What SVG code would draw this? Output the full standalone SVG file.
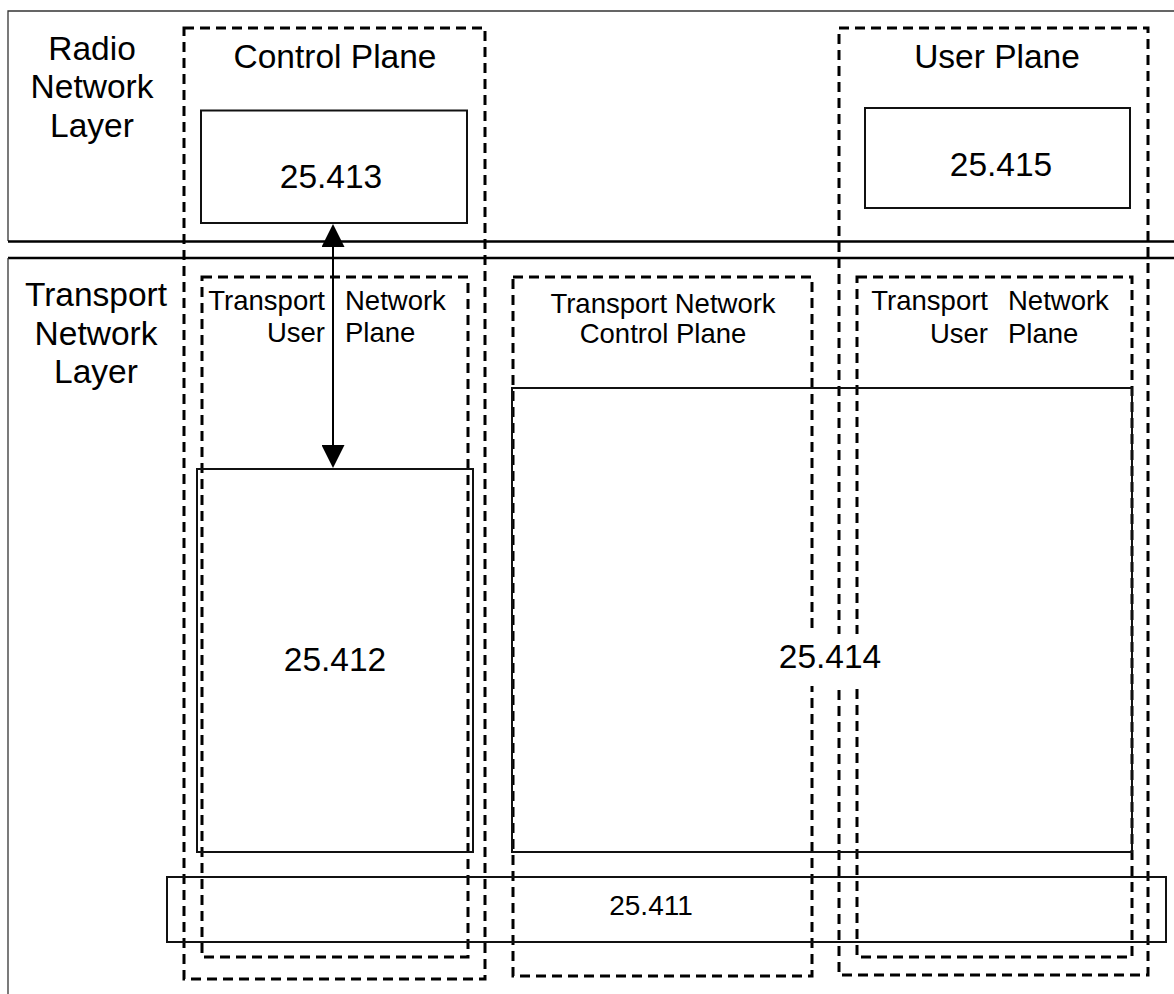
<svg xmlns="http://www.w3.org/2000/svg" width="1174" height="994" viewBox="0 0 1174 994">
<style>
text{font-family:"Liberation Sans",Arial,sans-serif;fill:#000}
.big{font-size:33.5px;text-anchor:middle}
.mid{font-size:27.5px}
.c{text-anchor:middle}
.e{text-anchor:end}
.s{text-anchor:start}
.frame{fill:none;stroke:#333;stroke-width:1.3}
.sep{fill:none;stroke:#000;stroke-width:2.5}
.dash{fill:none;stroke:#000;stroke-width:3;stroke-dasharray:10 6}
.box{fill:none;stroke:#111;stroke-width:2}
.conn{stroke:#000;stroke-width:2;fill:none}
</style>
<defs>
<marker id="ah" viewBox="0 0 23 23" refX="20" refY="11.5" markerWidth="23" markerHeight="23" markerUnits="userSpaceOnUse" orient="auto-start-reverse">
<path d="M0,0 L23,11.5 L0,23 z" fill="#000"/>
</marker>
</defs>
<g id="layers">
<path class="frame" d="M1174,11 H8 V241"/>
<path class="sep" d="M8,241.5 H1174"/>
<path class="sep" d="M1174,258 H8"/>
<path class="frame" d="M8,258 V994"/>
<text class="big" x="92" y="60">Radio</text>
<text class="big" x="92" y="98">Network</text>
<text class="big" x="92" y="137">Layer</text>
<text class="big" x="96" y="306">Transport</text>
<text class="big" x="96" y="345">Network</text>
<text class="big" x="96" y="383">Layer</text>
</g>
<g id="control-plane">
<rect class="dash" x="184" y="28" width="301" height="951"/>
<text class="big" x="335" y="68">Control Plane</text>
</g>
<g id="user-plane">
<rect class="dash" x="839" y="28" width="309" height="947"/>
<text class="big" x="997" y="68">User Plane</text>
</g>
<g id="tnup-left">
<rect class="dash" x="202" y="277" width="266" height="680"/>
<text class="mid e" x="325" y="310">Transport</text>
<text class="mid s" x="345" y="310">Network</text>
<text class="mid e" x="325" y="342">User</text>
<text class="mid s" x="345" y="342">Plane</text>
</g>
<g id="tncp">
<rect class="dash" x="513" y="277" width="299" height="699"/>
<text class="mid c" x="663" y="313">Transport Network</text>
<text class="mid c" x="663" y="343">Control Plane</text>
</g>
<g id="tnup-right">
<rect class="dash" x="857" y="277" width="275" height="680"/>
<text class="mid e" x="988" y="310">Transport</text>
<text class="mid s" x="1008" y="310">Network</text>
<text class="mid e" x="988" y="343">User</text>
<text class="mid s" x="1008" y="343">Plane</text>
</g>
<g id="n25413">
<rect class="box" x="201" y="110.5" width="266" height="112.5"/>
<text class="big" x="331" y="188">25.413</text>
</g>
<g id="n25415">
<rect class="box" x="865" y="108" width="265" height="100"/>
<text class="big" x="1001" y="176">25.415</text>
</g>
<g id="n25412">
<rect class="box" x="197" y="469" width="276" height="383"/>
<text class="big" x="335" y="671">25.412</text>
</g>
<g id="n25414">
<rect class="box" x="512" y="388" width="620" height="464"/>
<rect x="776" y="634" width="110" height="52" fill="#fff"/>
<text class="big" x="830" y="668">25.414</text>
</g>
<g id="n25411">
<rect class="box" x="167" y="877" width="999" height="65"/>
<text class="c" x="651" y="915" style="font-size:28px">25.411</text>
</g>
<g id="connectors">
<line class="conn" x1="333" y1="227" x2="333" y2="465" marker-start="url(#ah)" marker-end="url(#ah)"/>
</g>
</svg>
